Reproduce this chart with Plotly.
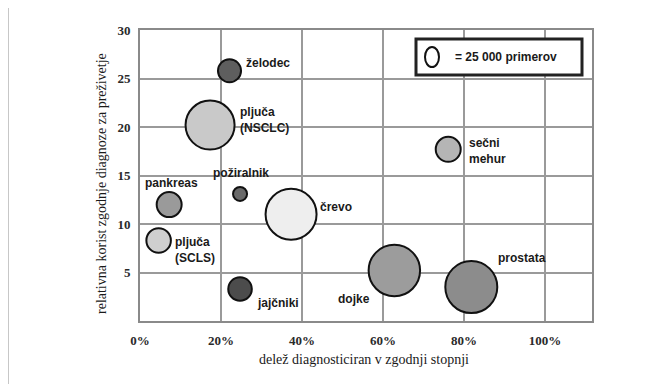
import plotly.graph_objects as go

# ---- data ----
organs = ["želodec", "pljuča<br>(NSCLC)", "sečni<br>mehur", "požiralnik", "pankreas",
          "črevo", "pljuča<br>(SCLS)", "jajčniki", "dojke", "prostata"]
early_share = [22.1, 17.3, 76.1, 24.7, 7.2, 37.3, 4.6, 24.7, 62.8, 81.8]      # % diagnosed early
benefit = [25.8, 20.2, 17.7, 13.1, 12.0, 11.0, 8.3, 3.3, 5.2, 3.5]            # relative benefit
cases = [46000, 208000, 54000, 17000, 54000, 225000, 52000, 48000, 229000, 234000]
x_ticks = [0, 20, 40, 60, 80, 100]
x_tick_labels = ["0%", "20%", "40%", "60%", "80%", "100%"]
y_ticks = [5, 10, 15, 20, 25, 30]
legend_cases = 25000

# ---- styling ----
fills = ["#5e5e5e", "#c9c9c9", "#b5b5b5", "#6a6a6a", "#9a9a9a",
         "#eeeeee", "#cfcfcf", "#4c4c4c", "#9c9c9c", "#8c8c8c"]
ref_px = 17.0
diam = [ref_px * (c / legend_cases) ** 0.5 for c in cases]
label_anchor = ["left", "left", "left", "center", "center", "left", "left", "left", "center", "center"]
label_dx = [14, 28, 19, 1, 2, 27, 14, 15, -40, 51]
label_dy = [8, 5, -2, 21, 22, 7, -10, -14, -28, 29]

OFF = 8  # page body margin
W, H = 663 - OFF, 384 - OFF
L, T = 140 - OFF, 30 - OFF
R, B = W - (592 - OFF), H - (321 - OFF)
pw, ph = W - L - R, H - T - B
def px(xp): return (xp - OFF - L) / pw
def py(yp): return (H - B - (yp - OFF)) / ph

fig = go.Figure()
fig.add_trace(go.Scatter(
    x=early_share, y=benefit, mode="markers",
    marker=dict(size=diam, sizemode="diameter", color=fills,
                line=dict(color="#111111", width=2), opacity=1),
    hoverinfo="skip", showlegend=False))

annotations = []
for i, name in enumerate(organs):
    annotations.append(dict(
        x=early_share[i], y=benefit[i], xref="x", yref="y", text=name,
        showarrow=False, xanchor=label_anchor[i], yanchor="middle", align="left",
        xshift=label_dx[i], yshift=label_dy[i],
        font=dict(family="Liberation Sans", size=12, color="#1a1a1a", weight="bold")))

annotations.append(dict(x=px(453), y=py(57), xref="paper", yref="paper",
                        text=f"= {legend_cases // 1000} 000 primerov", showarrow=False,
                        xanchor="left", yanchor="middle",
                        font=dict(family="Liberation Sans", size=12, color="#1a1a1a", weight="bold")))
annotations.append(dict(x=px(101), y=py(184), xref="paper", yref="paper",
                        text="relativna korist zgodnje diagnoze za preživetje", showarrow=False,
                        textangle=-90, xanchor="center", yanchor="middle",
                        font=dict(family="Liberation Serif", size=14, color="#1a1a1a")))
annotations.append(dict(x=px(364), y=py(359), xref="paper", yref="paper",
                        text="delež diagnosticiran v zgodnji stopnji", showarrow=False,
                        xanchor="center", yanchor="middle",
                        font=dict(family="Liberation Serif", size=14, color="#1a1a1a")))

shapes = [
    dict(type="line", xref="paper", yref="paper", x0=px(7.5), x1=px(7.5), y0=py(384), y1=py(7),
         line=dict(color="#222222", width=1.5)),
    dict(type="line", xref="paper", yref="paper", x0=px(7.5), x1=px(663), y0=py(7), y1=py(7),
         line=dict(color="#222222", width=1.5)),
    dict(type="rect", xref="paper", yref="paper", x0=px(416), x1=px(582), y0=py(75), y1=py(39),
         line=dict(color="#222222", width=3), fillcolor="white"),
    dict(type="circle", xref="paper", yref="paper", x0=px(425), x1=px(439), y0=py(67), y1=py(47),
         line=dict(color="#111111", width=2), fillcolor="white"),
]

tick_font = dict(family="Liberation Serif", size=13, color="#2a2a2a", weight="bold")
fig.update_layout(
    width=W, height=H, margin=dict(l=L, r=R, t=T, b=B, autoexpand=False),
    paper_bgcolor="white", plot_bgcolor="white",
    annotations=annotations, shapes=shapes,
    xaxis=dict(range=[0, 111.6], tickvals=x_ticks, ticktext=x_tick_labels,
               showgrid=True, gridcolor="#9a9a9a", gridwidth=2, zeroline=False,
               showline=True, mirror=True, linecolor="#8a8a8a", linewidth=2,
               ticks="", ticklabelstandoff=6, tickfont=tick_font),
    yaxis=dict(range=[0, 30], tickvals=y_ticks,
               showgrid=True, gridcolor="#9a9a9a", gridwidth=2, zeroline=False,
               showline=True, mirror=True, linecolor="#8a8a8a", linewidth=2,
               ticks="", ticklabelstandoff=5, tickfont=tick_font),
)

fig.write_html("out.html")
